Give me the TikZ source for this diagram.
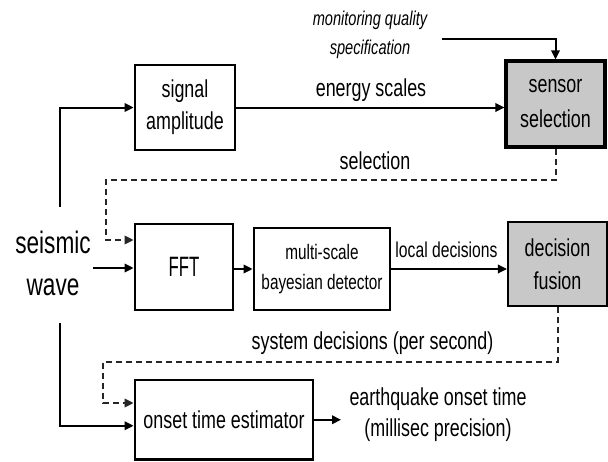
\documentclass[tikz,border=0pt]{standalone}
\usepackage{fontspec}
\setmainfont[FakeStretch=0.73]{Liberation Sans}
\newfontfamily\fftfont[FakeStretch=0.6]{Liberation Sans}
\usetikzlibrary{arrows.meta,calc}
\definecolor{boxgray}{RGB}{200,200,200}
\newcommand\txtsz{\fontsize{24.5}{32}\selectfont}
\tikzset{
  blk/.style={draw=black, line width=2.8pt, inner sep=0pt, align=center, font=\txtsz},
  lbl/.style={inner sep=0pt, align=center, font=\txtsz},
  conn/.style={line width=2pt, -{Triangle[length=9pt,width=8.5pt]}},
  dconn/.style={conn, draw=black!85, dash pattern=on 6pt off 4pt},
}
\begin{document}
\begin{tikzpicture}[x=1pt,y=-1pt]
  \fill[white] (0,0) rectangle (608,461);
  \useasboundingbox (0,0) rectangle (608,461);

  % processing blocks
  \node[blk, minimum width=100pt, minimum height=85pt] (sig) at (185,107.5) {signal\\amplitude};
  \node[blk, fill=boxgray, line width=3.2pt, minimum width=99pt, minimum height=86pt,
        font=\fontsize{24.5}{35}\selectfont] (sen) at (555.5,104) {sensor\\selection};
  \node[blk, minimum width=98pt, minimum height=86pt,
        font=\fftfont\fontsize{28}{28}\selectfont] (fft) at (184,267) {FFT};
  \node[blk, minimum width=136pt, minimum height=82pt,
        font=\fontsize{21}{30.7}\selectfont] (msd) at (322,269) {multi-scale\\bayesian detector};
  \node[blk, fill=boxgray, line width=2.2pt, minimum width=99pt, minimum height=84pt,
        font=\fontsize{24.5}{33.3}\selectfont] (dec) at (557.5,264) {decision\\fusion};
  \node[blk, minimum width=178pt, minimum height=79.5pt] (ons) at (224,419.75) {onset time estimator};

  % free labels
  \node[lbl, font=\fontsize{31}{42}\selectfont] (seis) at (53,263) {seismic\\wave};
  \node[lbl, font=\itshape\fontsize{20}{29}\selectfont] (mqs) at (370,34.5) {monitoring quality\\specification};
  \node[lbl, anchor=base] (es) at (371,96.7) {energy scales};
  \node[lbl, anchor=base] (sel) at (375,169) {selection};
  \node[lbl, anchor=base, font=\fontsize{21.5}{28}\selectfont] (ld) at (446.5,257.5) {local decisions};
  \node[lbl, anchor=base] (sd) at (372.5,349) {system decisions (per second)};
  \node[lbl, font=\fontsize{24.5}{31.7}\selectfont] (eq) at (438,414.7) {earthquake onset time\\(millisec precision)};

  % connector end points
  \coordinate (wtop) at (60,207);
  \coordinate (wbot) at (60,323);
  \coordinate (wmid) at (93,268);
  \coordinate (mq) at (442,39.3);
  \coordinate (selc) at (106,180);
  \coordinate (sdc) at (103,362);
  \coordinate (eqin) at (341,419.75);

  % solid signal paths
  \draw[conn] (wtop) |- (sig.west);
  \draw[conn] (wbot) |- ($(ons.west)+(0,6)$);
  \draw[conn] (wmid) -- (wmid -| fft.west);
  \draw[conn] (sig.east) -- (sig.east -| sen.west);
  \draw[conn] (mq) -| (sen.north);
  \draw[conn] (fft.east |- msd.west) -- (msd.west);
  \draw[conn] (msd.east) -- (msd.east -| dec.west);
  \draw[conn] (ons.east) -- (ons.east -| eqin);

  % dashed feedback paths
  \draw[dconn] (sen.south) |- (selc) |- ($(fft.west)+(0,-27)$);
  \draw[dconn] (dec.south) |- (sdc) |- ($(ons.west)+(0,-16.75)$);
\end{tikzpicture}
\end{document}
